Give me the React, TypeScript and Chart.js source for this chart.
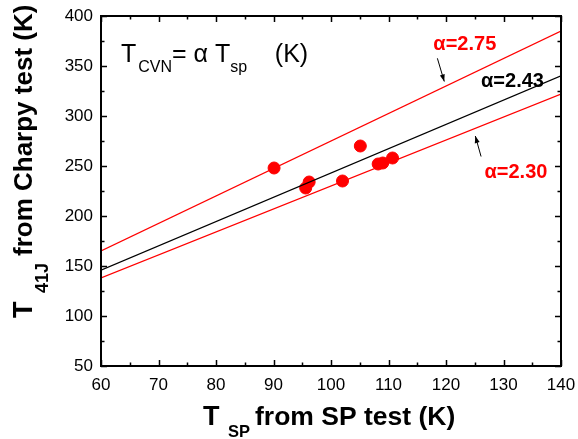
import React, { useEffect, useRef } from "react";
import { Chart, registerables } from "chart.js";

Chart.register(...registerables);

// Data
const tspK = [90.1, 95.6, 96.2, 102.0, 105.1, 108.2, 109.0, 110.7];
const t41jK = [248, 228, 234, 235, 270, 252, 253, 258];

const lineX = [60, 140];
const lineAlpha275 = [165, 385];
const lineAlpha243 = [145.8, 340.2];
const lineAlpha230 = [138, 322];

const xTicks = [60, 70, 80, 90, 100, 110, 120, 130, 140];
const yTicks = [50, 100, 150, 200, 250, 300, 350, 400];

const labelTexts = ["α=2.75", "α=2.43", "α=2.30"];

const FONT = "'Liberation Sans', Arial, Helvetica, sans-serif";

const overlayPlugin = {
  id: "overlay",
  afterDraw(chart: any) {
    const ctx = chart.ctx as CanvasRenderingContext2D;
    const xs = chart.scales.x;
    const ys = chart.scales.y;
    const X = (v: number) => xs.getPixelForValue(v);
    const Y = (v: number) => ys.getPixelForValue(v);
    const { left, right, top, bottom } = chart.chartArea;
    ctx.save();
    // frame
    ctx.strokeStyle = "#000";
    ctx.lineWidth = 2;
    ctx.strokeRect(left, top, right - left, bottom - top);
    // inward ticks
    ctx.lineWidth = 1.5;
    ctx.beginPath();
    for (let v = 60; v <= 140; v += 5) {
      const px = Math.round(X(v)) + 0.5;
      const len = v % 10 === 0 ? 6 : 3.5;
      ctx.moveTo(px, bottom);
      ctx.lineTo(px, bottom - len);
      ctx.moveTo(px, top);
      ctx.lineTo(px, top + len);
    }
    for (let v = 50; v <= 400; v += 25) {
      const py = Math.round(Y(v)) + 0.5;
      const len = v % 50 === 0 ? 6 : 3.5;
      ctx.moveTo(left, py);
      ctx.lineTo(left + len, py);
      ctx.moveTo(right, py);
      ctx.lineTo(right - len, py);
    }
    ctx.stroke();

    // formula text
    ctx.fillStyle = "#000";
    ctx.textBaseline = "alphabetic";
    ctx.textAlign = "left";
    let fx = X(63.46);
    const fy = Y(354.3);
    const big = `25px ${FONT}`;
    const small = `16px ${FONT}`;
    const seq: [string, string, number][] = [
      ["T", big, 0],
      ["CVN", small, 10],
      ["= ", big, 0],
      ["α", big, 0],
      [" T", big, 0],
      ["sp", small, 10],
      ["    (K)", big, 0],
    ];
    for (const [t, f, dy] of seq) {
      ctx.font = f;
      ctx.fillText(t, fx, fy + dy);
      fx += ctx.measureText(t).width + (t === "T" ? 2 : 0);
    }

    // alpha labels
    ctx.font = `bold 20px ${FONT}`;
    ctx.fillStyle = "#ff0000";
    ctx.fillText(labelTexts[0], X(117.8), Y(366));
    ctx.fillStyle = "#000";
    ctx.fillText(labelTexts[1], X(126.1), Y(329));
    ctx.fillStyle = "#ff0000";
    ctx.fillText(labelTexts[2], X(126.7), Y(238));

    // arrows
    const arrow = (x1: number, y1: number, x2: number, y2: number) => {
      const ax = X(x1), ay = Y(y1), bx = X(x2), by = Y(y2);
      ctx.strokeStyle = "#000";
      ctx.fillStyle = "#000";
      ctx.lineWidth = 1;
      ctx.beginPath();
      ctx.moveTo(ax, ay);
      ctx.lineTo(bx, by);
      ctx.stroke();
      const ang = Math.atan2(by - ay, bx - ax);
      const hl = 7, hw = 2.5;
      ctx.beginPath();
      ctx.moveTo(bx, by);
      ctx.lineTo(bx - hl * Math.cos(ang) + hw * Math.sin(ang), by - hl * Math.sin(ang) - hw * Math.cos(ang));
      ctx.lineTo(bx - hl * Math.cos(ang) - hw * Math.sin(ang), by - hl * Math.sin(ang) + hw * Math.cos(ang));
      ctx.closePath();
      ctx.fill();
    };
    arrow(118.5, 357.7, 119.7, 334.5);
    arrow(126.1, 259.5, 125.1, 280);

    // x axis title
    ctx.fillStyle = "#000";
    const tb = `bold 27px ${FONT}`;
    const tm = `bold 26.5px ${FONT}`;
    ctx.font = tb;
    ctx.fillText("T", 203, 425);
    ctx.font = `bold 16.5px ${FONT}`;
    ctx.fillText("SP", 228, 437);
    ctx.font = tm;
    ctx.fillText("from SP test (K)", 255, 425);

    // y axis title (rotated)
    ctx.save();
    ctx.translate(32, 318);
    ctx.rotate(-Math.PI / 2);
    ctx.font = tb;
    ctx.fillText("T", 0, 0);
    ctx.font = `bold 18px ${FONT}`;
    ctx.fillText("41J", 25, 15.5);
    ctx.font = `bold 26px ${FONT}`;
    ctx.fillText("from Charpy test (K)", 62, 0);
    ctx.restore();

    ctx.restore();
  },
};

export default function App() {
  const ref = useRef<HTMLCanvasElement>(null);
  useEffect(() => {
    const canvas = ref.current!;
    const mkLine = (ys: number[], color: string) => ({
      type: "line" as const,
      data: lineX.map((x, i) => ({ x, y: ys[i] })),
      borderColor: color,
      borderWidth: 1.3,
      pointRadius: 0,
      fill: false,
    });
    const chart = new Chart(canvas, {
      type: "scatter",
      data: {
        datasets: [
          mkLine(lineAlpha275, "#ff0000"),
          mkLine(lineAlpha243, "#000000"),
          mkLine(lineAlpha230, "#ff0000"),
          {
            type: "scatter",
            data: tspK.map((x, i) => ({ x, y: t41jK[i] })),
            backgroundColor: "#ff0000",
            borderColor: "#ff0000",
            pointRadius: 6,
            pointHoverRadius: 6,
          },
        ] as any,
      },
      options: {
        animation: false,
        responsive: false,
        events: [],
        layout: { padding: { top: 16, right: 17, left: 0, bottom: 0 } },
        plugins: { legend: { display: false }, tooltip: { enabled: false } },
        scales: {
          x: {
            type: "linear",
            min: 60,
            max: 140,
            afterBuildTicks: (s: any) => {
              s.ticks = xTicks.map((v) => ({ value: v }));
            },
            afterFit: (s: any) => {
              s.height = 439 - 366;
              s.paddingLeft = 0;
              s.paddingRight = 0;
            },
            grid: { display: false, drawTicks: false },
            border: { display: false },
            ticks: {
              color: "#000",
              padding: 9,
              font: { family: FONT, size: 17 },
              maxRotation: 0,
            },
          },
          y: {
            type: "linear",
            min: 50,
            max: 400,
            afterBuildTicks: (s: any) => {
              s.ticks = yTicks.map((v) => ({ value: v }));
            },
            afterFit: (s: any) => {
              s.width = 101;
              s.paddingTop = 0;
              s.paddingBottom = 0;
            },
            grid: { display: false, drawTicks: false },
            border: { display: false },
            ticks: {
              color: "#000",
              padding: 8,
              font: { family: FONT, size: 17 },
            },
          },
        },
      },
      plugins: [overlayPlugin],
    });
    return () => chart.destroy();
  }, []);
  return (
    <div style={{ position: "fixed", left: 0, top: 0, width: 578, height: 439, background: "#fff" }}>
      <canvas ref={ref} width={578} height={439} style={{ width: 578, height: 439 }} />
    </div>
  );
}
